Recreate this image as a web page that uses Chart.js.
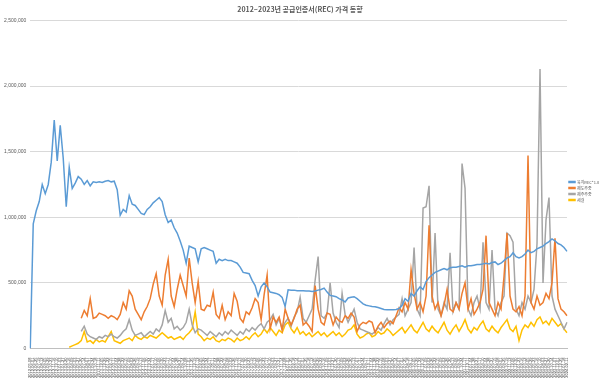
<!DOCTYPE html>
<html><head><meta charset="utf-8">
<script src="https://cdn.jsdelivr.net/npm/chart.js@4/dist/chart.umd.min.js"></script>
<style>html,body{margin:0;padding:0;background:#fff;}#wrap{width:600px;height:381px;position:relative;}</style>
</head><body><div id="wrap"><canvas id="c"></canvas></div>
<script>
const title = "2012~2023년 공급인증서(REC) 가격 동향";
const seriesNames = ["육지REC*1.0", "제도주중", "제주주중", "세걸"];
const yTicks = [0, 500000, 1000000, 1500000, 2000000, 2500000];

const mainland = [0,950000,1050000,1120000,1250000,1180000,1250000,1420000,1740000,1430000,
1700000,1450000,1080000,1380000,1220000,1260000,1310000,1290000,1250000,1280000,
1240000,1270000,1265000,1270000,1265000,1275000,1280000,1270000,1275000,1210000,
1015000,1060000,1040000,1165000,1100000,1090000,1060000,1030000,1020000,1060000,
1080000,1110000,1130000,1150000,1120000,1020000,960000,980000,920000,880000,
820000,750000,650000,780000,770000,760000,660000,760000,770000,760000,
750000,740000,650000,680000,670000,680000,670000,670000,660000,650000,
620000,580000,575000,570000,520000,480000,400000,470000,500000,470000,
430000,425000,420000,410000,390000,320000,447000,445000,445000,440000,
440000,440000,438000,438000,435000,438000,445000,450000,460000,430000,
405000,400000,395000,380000,370000,355000,385000,390000,395000,380000,
360000,340000,330000,325000,320000,318000,312000,305000,298000,295000,
295000,295000,298000,305000,330000,380000,360000,420000,400000,440000,
470000,450000,510000,540000,560000,580000,590000,600000,610000,600000,
615000,620000,620000,625000,630000,620000,630000,630000,635000,640000,
640000,645000,650000,645000,655000,660000,640000,650000,670000,690000,
700000,730000,700000,690000,700000,720000,750000,730000,740000,760000,
770000,780000,800000,815000,835000,820000,800000,790000,770000,740000];

const weekday1 = [null,null,null,null,null,null,null,null,null,null,
null,null,null,null,null,null,null,230000,290000,250000,
380000,230000,240000,270000,260000,250000,230000,250000,240000,220000,
260000,350000,300000,440000,400000,300000,260000,220000,280000,320000,
380000,490000,570000,400000,330000,560000,680000,400000,320000,450000,
560000,480000,400000,690000,500000,350000,510000,300000,290000,330000,
320000,430000,260000,230000,330000,220000,280000,250000,420000,360000,
230000,200000,280000,260000,310000,380000,350000,220000,410000,560000,
150000,240000,200000,240000,140000,300000,230000,180000,230000,300000,
330000,180000,200000,170000,130000,480000,300000,200000,180000,270000,
260000,180000,240000,210000,200000,250000,230000,270000,240000,130000,
180000,200000,190000,210000,200000,120000,170000,200000,160000,190000,
210000,190000,250000,310000,280000,350000,300000,600000,420000,300000,
350000,280000,400000,940000,400000,300000,350000,250000,330000,450000,
300000,280000,350000,300000,420000,500000,300000,380000,260000,300000,
350000,450000,860000,350000,300000,250000,350000,300000,550000,880000,
400000,300000,280000,320000,250000,400000,1470000,350000,300000,400000,
330000,350000,420000,380000,500000,840000,380000,300000,280000,250000];

const weekday2 = [null,null,null,null,null,null,null,null,null,null,
null,null,null,null,null,null,null,130000,170000,110000,
90000,80000,70000,90000,80000,100000,90000,110000,90000,80000,
100000,130000,150000,220000,140000,100000,110000,120000,90000,110000,
130000,110000,150000,130000,180000,290000,200000,230000,150000,170000,
140000,160000,200000,300000,180000,120000,150000,140000,120000,100000,
130000,110000,90000,120000,100000,130000,110000,140000,120000,100000,
130000,110000,150000,130000,160000,140000,170000,190000,150000,200000,
220000,260000,180000,230000,150000,200000,230000,170000,240000,280000,
390000,230000,200000,250000,300000,520000,700000,250000,230000,270000,
500000,270000,200000,160000,420000,260000,200000,250000,300000,200000,
150000,140000,130000,120000,110000,130000,160000,140000,190000,230000,
180000,220000,240000,260000,380000,250000,300000,350000,770000,300000,
250000,1070000,1080000,1240000,350000,880000,300000,250000,350000,300000,
730000,280000,350000,300000,1410000,1220000,300000,250000,350000,400000,
300000,810000,350000,300000,750000,300000,250000,350000,400000,880000,
860000,810000,300000,250000,350000,300000,400000,350000,450000,800000,
2130000,500000,980000,1150000,400000,300000,250000,200000,150000,200000];

const other = [null,null,null,null,null,null,null,null,null,null,
null,null,null,10000,20000,30000,40000,60000,130000,50000,
60000,40000,70000,50000,60000,50000,90000,130000,60000,50000,
40000,60000,70000,80000,60000,100000,80000,70000,90000,80000,
100000,90000,80000,100000,120000,100000,80000,90000,70000,80000,
90000,70000,100000,120000,150000,280000,110000,90000,60000,80000,
70000,90000,60000,50000,70000,60000,80000,70000,50000,80000,
60000,70000,90000,70000,100000,120000,90000,110000,150000,120000,
160000,130000,100000,140000,120000,180000,200000,150000,120000,160000,
110000,130000,100000,120000,90000,110000,130000,100000,120000,90000,
110000,130000,100000,120000,90000,110000,140000,150000,180000,110000,
80000,90000,110000,120000,90000,100000,130000,110000,120000,150000,
130000,100000,120000,140000,160000,120000,150000,180000,140000,120000,
160000,200000,150000,130000,170000,140000,120000,160000,200000,140000,
110000,150000,180000,130000,170000,220000,150000,120000,160000,140000,
180000,210000,150000,130000,170000,140000,120000,160000,190000,220000,
150000,130000,170000,60000,140000,180000,160000,200000,170000,220000,
240000,190000,210000,180000,230000,200000,170000,190000,150000,120000];

// category labels (dates of the trading sessions)
const labels = [];
(function(){
  let d = new Date(2012, 4, 8);
  for (let i = 0; i < mainland.length; i++) {
    const y = d.getFullYear(), m = String(d.getMonth()+1).padStart(2,'0'), dd = String(d.getDate()).padStart(2,'0');
    labels.push(y + "-" + m + "-" + dd);
    d = new Date(d.getTime() + 24*86400000);
  }
})();

const colors = ["#5b9bd5", "#ed7d31", "#a5a5a5", "#ffc000"];
const dataSets = [mainland, weekday1, weekday2, other];

new Chart(document.getElementById('c'), {
  type: 'line',
  data: {
    labels: labels,
    datasets: dataSets.map((arr, k) => ({
      label: seriesNames[k],
      data: arr,
      borderColor: colors[k],
      backgroundColor: colors[k],
      borderWidth: 1.5,
      pointRadius: 0,
      tension: 0,
      spanGaps: false
    }))
  },
  options: {
    responsive: true,
    maintainAspectRatio: false,
    animation: false,
    layout: { padding: { top: 3, right: 0, bottom: 2, left: 0 } },
    plugins: {
      title: { display: true, text: title, color: "#595959", font: { size: 7, family: "Noto Sans CJK KR" }, padding: { top: 2, bottom: 7 } },
      legend: {
        position: 'right',
        maxWidth: 33,
        labels: { boxWidth: 6, boxHeight: 1, padding: 2, color: "#595959", font: { size: 4, family: "Noto Sans CJK KR" } }
      },
      tooltip: { enabled: false }
    },
    scales: {
      x: {
        offset: false,
        grid: { display: false },
        border: { color: "#bfbfbf" },
        ticks: { autoSkip: false, maxRotation: 90, minRotation: 90, color: "#404040", font: { size: 4, family: "Liberation Sans" }, padding: 1 }
      },
      y: {
        min: 0, max: 2500000,
        afterBuildTicks: (ax) => { ax.ticks = yTicks.map(v => ({ value: v })); },
        grid: { color: "#d9d9d9", drawTicks: false },
        border: { display: false },
        ticks: { color: "#595959", font: { size: 5, family: "Liberation Sans" }, padding: 4,
          callback: (v) => v.toLocaleString('en-US') }
      }
    }
  }
});
</script></body></html>
